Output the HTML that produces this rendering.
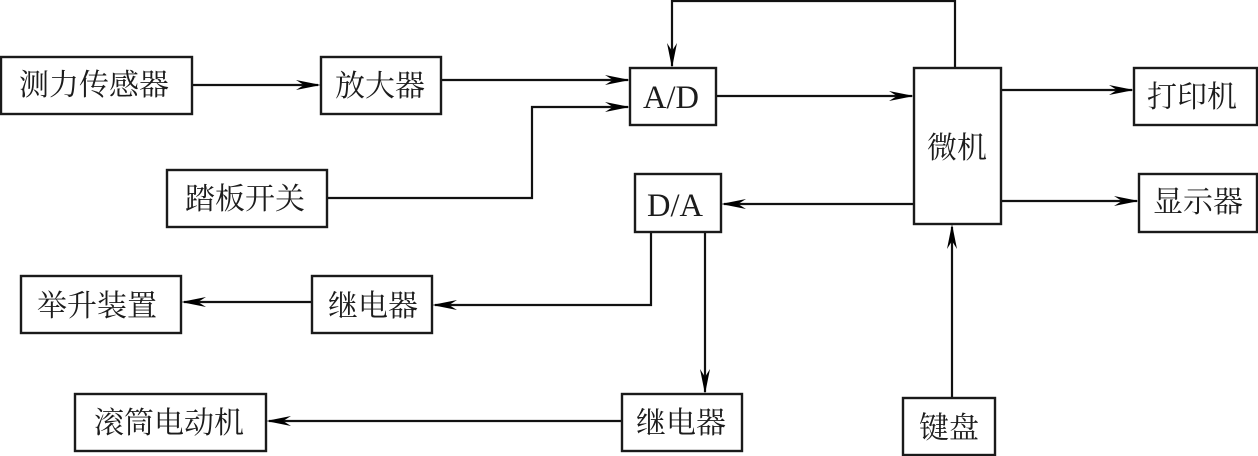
<!DOCTYPE html>
<html lang="zh">
<head>
<meta charset="utf-8">
<style>
html,body{margin:0;padding:0;background:#fff;width:1258px;height:456px;overflow:hidden}
svg{display:block}
.b{fill:#fff;stroke:#1a1a1a;stroke-width:2.4}
.l{fill:none;stroke:#111;stroke-width:2.2}
.a{fill:#000}
text{font-family:"Liberation Serif","Noto Serif CJK SC",serif;font-size:30px;fill:#1c1c1c}
text.e{font-size:32.5px}
</style>
</head>
<body>
<svg width="1258" height="456" viewBox="0 0 1258 456" xmlns="http://www.w3.org/2000/svg">
<defs>
<path id="ar" class="a" d="M0 0L-25 -5L-17 0L-25 5Z"/>
</defs>
<!-- lines -->
<path class="l" d="M192 85H318"/>
<path class="l" d="M441 80H628"/>
<path class="l" d="M327 198H532V107H628"/>
<path class="l" d="M955 68V1H672V66"/>
<path class="l" d="M716 96H912"/>
<path class="l" d="M1001 90H1132"/>
<path class="l" d="M1001 201H1137"/>
<path class="l" d="M914 204H724"/>
<path class="l" d="M651 232V305H435"/>
<path class="l" d="M705 232V392"/>
<path class="l" d="M312 302H184"/>
<path class="l" d="M622 421H269"/>
<path class="l" d="M952 398V227"/>
<!-- arrowheads -->
<use href="#ar" transform="translate(321 85)"/>
<use href="#ar" transform="translate(630 80)"/>
<use href="#ar" transform="translate(630 107)"/>
<use href="#ar" transform="translate(672 68) rotate(90)"/>
<use href="#ar" transform="translate(914 96)"/>
<use href="#ar" transform="translate(1134 90)"/>
<use href="#ar" transform="translate(1139 201)"/>
<use href="#ar" transform="translate(721 204) rotate(180)"/>
<use href="#ar" transform="translate(432 305) rotate(180)"/>
<use href="#ar" transform="translate(705 394) rotate(90)"/>
<use href="#ar" transform="translate(181 302) rotate(180)"/>
<use href="#ar" transform="translate(266 421) rotate(180)"/>
<use href="#ar" transform="translate(952 224) rotate(-90)"/>
<!-- boxes -->
<rect class="b" x="1" y="57" width="191" height="57"/>
<rect class="b" x="321" y="57" width="120" height="57"/>
<rect class="b" x="630" y="68" width="86" height="57"/>
<rect class="b" x="914" y="68" width="87" height="156"/>
<rect class="b" x="1134" y="68" width="123" height="57"/>
<rect class="b" x="1139" y="174" width="118" height="58"/>
<rect class="b" x="635" y="174" width="86" height="58"/>
<rect class="b" x="167" y="170" width="160" height="57"/>
<rect class="b" x="21" y="276" width="160" height="57"/>
<rect class="b" x="312" y="276" width="120" height="57"/>
<rect class="b" x="75" y="394" width="191" height="57"/>
<rect class="b" x="622" y="394" width="120" height="57"/>
<rect class="b" x="903" y="398" width="92" height="57"/>
<!-- labels -->
<text x="19" y="95">测力传感器</text>
<text x="335" y="96">放大器</text>
<text class="e" x="643" y="108">A/D</text>
<text x="927" y="158">微机</text>
<text x="1147" y="107">打印机</text>
<text x="1153" y="212">显示器</text>
<text class="e" x="647" y="216">D/A</text>
<text x="185" y="209">踏板开关</text>
<text x="37" y="316">举升装置</text>
<text x="328" y="316">继电器</text>
<text x="94" y="433">滚筒电动机</text>
<text x="636" y="433">继电器</text>
<text x="919" y="438">键盘</text>
</svg>
</body>
</html>
